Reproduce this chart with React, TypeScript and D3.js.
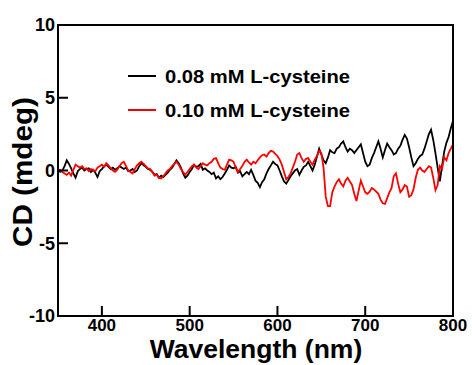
import React from "react";
import * as d3 from "d3";

const wavelengths: number[] = d3.range(350, 800.1, 2.5);

const cd008: number[] = [
  0.05, -0.1, 0.0, 0.3, 0.7, 0.45, 0.15, -0.2, -0.5, -0.05,
  0.1, 0.2, 0.0, 0.1, 0.15, -0.1, 0.05, -0.15, -0.45, -0.05,
  0.1, 0.3, 0.4, 0.25, 0.1, 0.2, 0.05, 0.15, 0.3, 0.2,
  0.1, 0.2, -0.05, 0.0, 0.1, -0.1, 0.0, 0.3, 0.5, 0.35,
  0.25, 0.1, 0.05, -0.1, -0.3, -0.25, -0.5, -0.35, -0.45, -0.3,
  -0.15, 0.05, 0.2, 0.45, 0.7, 0.5, 0.2, -0.2, -0.5, -0.35,
  -0.1, 0.1, 0.4, 0.25, 0.3, 0.45, 0.05, 0.15, 0.0, -0.1,
  -0.25, -0.15, -0.55, -0.4, -0.6, -0.45, -0.2, 0.05, 0.35, 0.2,
  0.15, 0.25, -0.15, -0.05, -0.4, -0.25, -0.1, -0.25, 0.05, -0.3,
  -0.7, -0.85, -1.15, -0.8, -0.6, -0.2, 0.1, 0.35, 0.6, 0.45,
  0.35, 0.0, -0.4, -0.75, -0.9, -0.65, -0.4, -0.2, 0.0, 0.1,
  -0.3, 0.0, 0.25, 0.35, 0.6, 0.3, 0.0, 0.4, 0.95, 1.5,
  1.1, 0.7, 0.5, 0.9, 1.4, 1.25, 1.2, 1.5, 1.6, 1.85,
  2.0, 1.6, 1.3, 1.5, 1.4, 1.2, 1.4, 1.6, 1.8, 1.2,
  0.6, 0.3, 0.4, 0.85, 1.2, 1.6, 2.0, 1.5, 0.9, 1.4,
  1.85, 1.6, 1.4, 1.1, 1.2, 1.5, 1.7, 2.1, 2.45, 2.2,
  1.6, 0.9, 0.3, 0.5, 0.8, 1.0, 1.1, 1.5, 2.0, 2.5,
  2.8, 2.1, 1.2, 0.2, -0.75, 0.3, 1.3, 1.9, 2.3, 2.9,
  3.4,
];

const cd010: number[] = [
  0.0, 0.05, -0.1, -0.2, -0.3, -0.15, -0.35, 0.05, 0.4, 0.3,
  0.2, 0.3, 0.1, 0.15, -0.05, 0.1, 0.05, -0.05, 0.2, 0.3,
  0.4, 0.25, 0.5, 0.35, 0.15, 0.0, -0.1, 0.05, 0.3, 0.5,
  0.6, 0.3, 0.0, -0.1, -0.2, 0.1, 0.35, 0.5, 0.6, 0.45,
  0.3, 0.15, 0.1, -0.1, -0.35, -0.3, -0.5, -0.55, -0.4, -0.2,
  0.0, 0.1, 0.3, 0.45, 0.6, 0.4, 0.1, -0.1, -0.3, -0.1,
  0.1, 0.3, 0.4, 0.2, 0.1, 0.3, 0.5, 0.4, 0.35, 0.5,
  0.6, 0.8, 0.85, 0.5, 0.2, 0.1, 0.05, 0.4, 0.75, 0.7,
  0.6, 0.2, -0.1, 0.1, 0.3, 0.6, 0.75, 0.55, 0.4, 0.6,
  0.5, 0.7, 0.9, 1.05, 1.1, 0.95, 1.2, 1.35, 1.3, 1.15,
  1.0, 0.75, 0.4, -0.1, -0.6, -0.45, -0.2, 0.2, 0.6, 1.1,
  1.2, 0.85, 0.6, 0.8, 0.85, 0.6, 0.4, 0.75, 1.0, 1.35,
  1.2, 0.2, -1.8, -2.45, -2.45, -1.5, -1.1, -0.8, -0.6, -0.9,
  -1.1, -0.7, -0.5, -0.75, -1.0, -1.6, -2.1, -1.4, -0.7, -1.1,
  -1.5, -1.6, -1.45, -1.2, -1.3, -1.45, -1.6, -2.0, -2.25, -2.3,
  -1.9, -1.5, -1.2, -0.4, -0.2, -0.9, -1.5, -1.3, -1.0, -1.1,
  -1.8, -1.7, -1.3, -0.5, 0.05, 0.2, 0.0, -0.1, 0.1, 0.3,
  0.2, -0.5, -1.35, -1.0, 0.3, 0.1, 0.9, 0.7, 1.2, 1.5,
  1.8,
];

const xTicks: number[] = [400, 500, 600, 700, 800];
const yTicks: number[] = [-10, -5, 0, 5, 10];
const seriesLabels: string[] = ["0.08 mM L-cysteine", "0.10 mM L-cysteine"];
const seriesColors: string[] = ["#000000", "#ff0000"];

const FONT = "Arial, 'Liberation Sans', Helvetica, sans-serif";

export default function App() {
  const W = 472;
  const H = 365;
  const left = 58;
  const right = 453;
  const top = 25;
  const bottom = 316;

  const x = d3.scaleLinear().domain([350, 800]).range([left, right]);
  const y = d3.scaleLinear().domain([-10, 10]).range([bottom, top]);

  const line = d3
    .line<number>()
    .x((_, i) => x(wavelengths[i]))
    .y((d) => y(d))
    .curve(d3.curveLinear);

  const series = [cd008, cd010];

  return (
    <svg
      width={W}
      height={H}
      style={{ position: "absolute", left: 0, top: 0, background: "#fff" }}
      fontFamily={FONT}
    >
      <rect x={0} y={0} width={W} height={H} fill="#fff" />
      {series.map((s, k) => (
        <path
          key={k}
          d={line(s) || ""}
          fill="none"
          stroke={seriesColors[k]}
          strokeWidth={1.8}
          strokeLinejoin="miter"
        />
      ))}
      <rect
        x={left}
        y={top}
        width={right - left}
        height={bottom - top}
        fill="none"
        stroke="#000"
        strokeWidth={2}
      />
      {yTicks.map((t) => (
        <g key={"y" + t}>
          <line x1={left} x2={left + 10} y1={y(t)} y2={y(t)} stroke="#000" strokeWidth={2} />
          <text
            x={left - 3}
            y={y(t)}
            dy="0.36em"
            textAnchor="end"
            fontSize={18}
            fontWeight="bold"
          >
            {t}
          </text>
        </g>
      ))}
      {xTicks.map((t) => (
        <g key={"x" + t}>
          <line x1={x(t)} x2={x(t)} y1={bottom} y2={bottom - 10} stroke="#000" strokeWidth={2} />
          <text x={x(t)} y={bottom + 15} textAnchor="middle" fontSize={17} fontWeight="bold">
            {t}
          </text>
        </g>
      ))}
      <text x={256} y={358} textAnchor="middle" fontSize={26.5} fontWeight="bold">
        Wavelength (nm)
      </text>
      <text
        transform={`translate(32,172) rotate(-90)`}
        textAnchor="middle"
        fontSize={27}
        fontWeight="bold"
        textLength={150}
        lengthAdjust="spacingAndGlyphs"
      >
        CD (mdeg)
      </text>
      {seriesLabels.map((lab, k) => (
        <g key={lab}>
          <line
            x1={128}
            x2={156}
            y1={76 + k * 34}
            y2={76 + k * 34}
            stroke={seriesColors[k]}
            strokeWidth={2}
          />
          <text
            x={165}
            y={83 + k * 34}
            fontSize={18.5}
            fontWeight="bold"
            textLength={185}
            lengthAdjust="spacingAndGlyphs"
          >
            {lab}
          </text>
        </g>
      ))}
    </svg>
  );
}
